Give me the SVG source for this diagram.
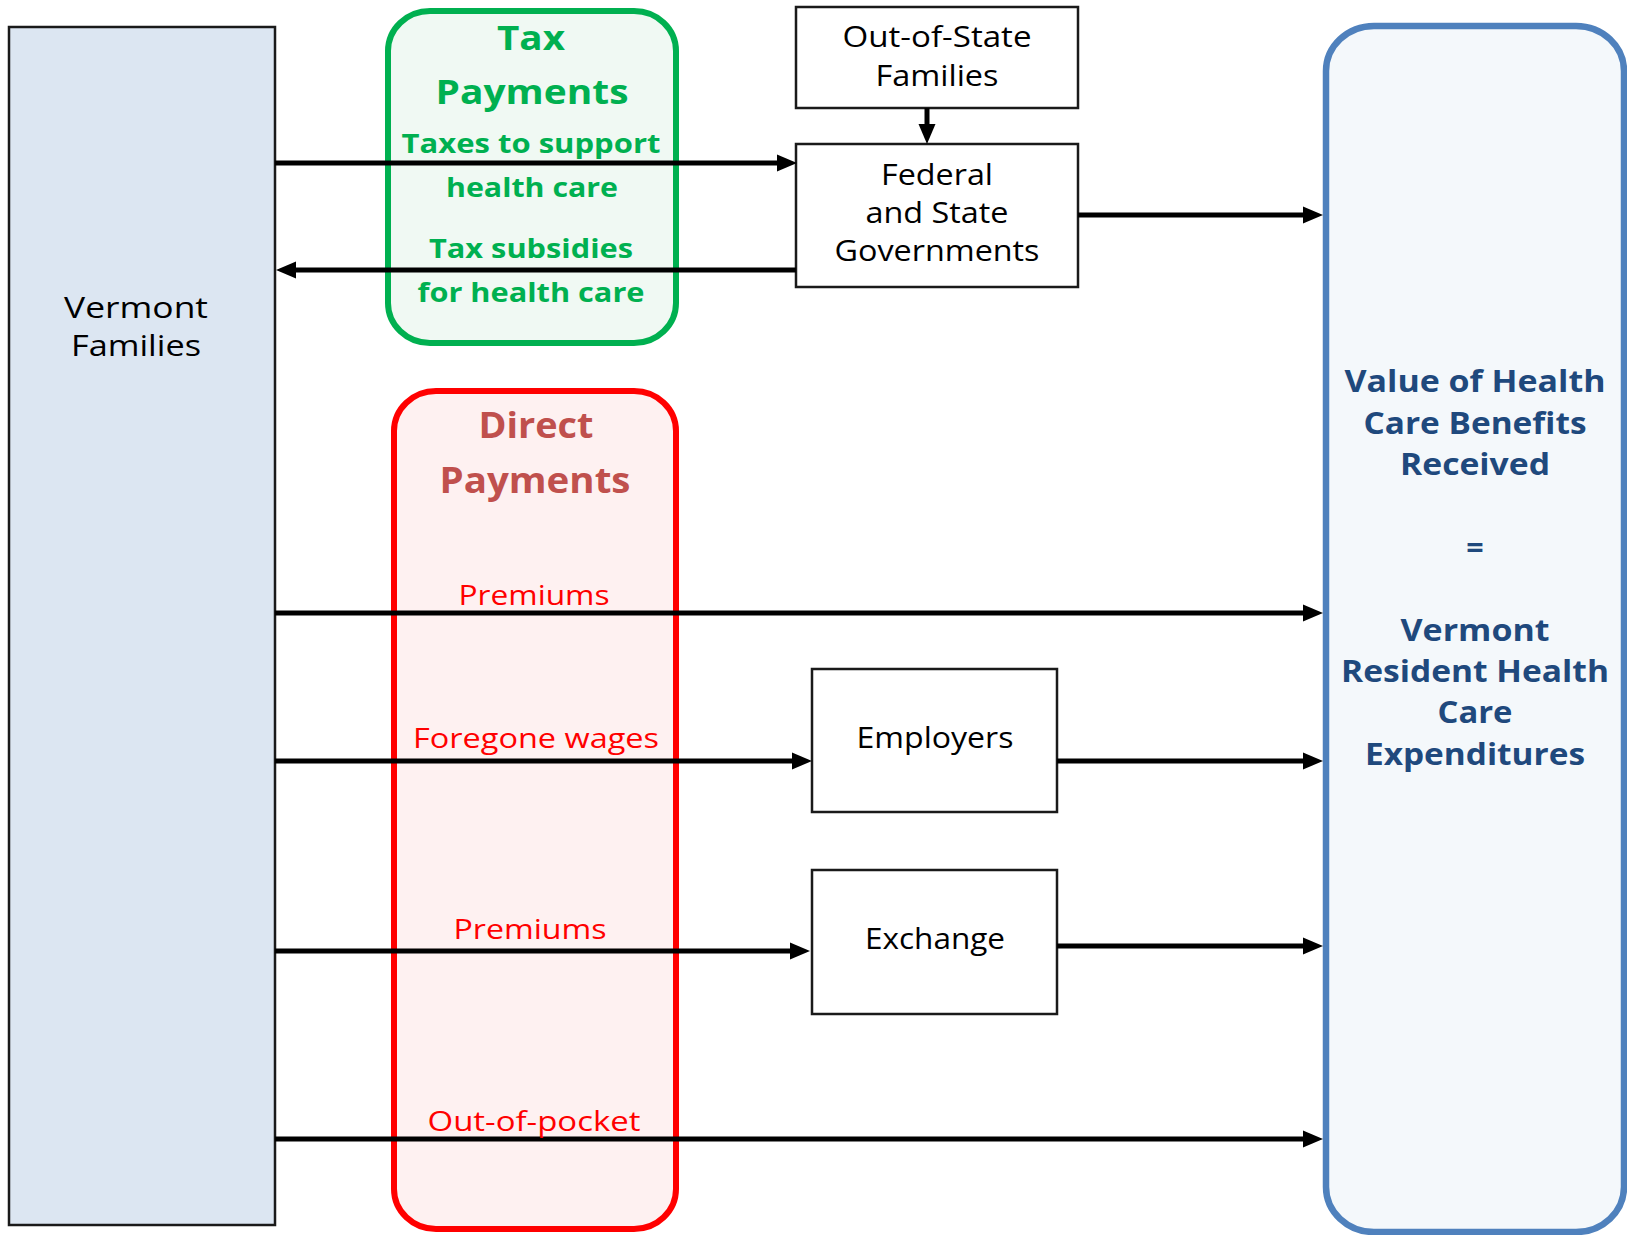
<svg xmlns="http://www.w3.org/2000/svg" width="1627" height="1235" viewBox="0 0 1627 1235">
<style>
text{font-family:"Open Sans","DejaVu Sans",sans-serif;text-anchor:middle}
.box{fill:#ffffff;stroke:#1a1a1a;stroke-width:2.5}
.blk{fill:#000000;font-size:28.5px}
.grnT{fill:#00b050;font-weight:bold;font-size:34px}
.grn{fill:#00b050;font-weight:bold;font-size:27px}
.redT{fill:#c0504d;font-weight:bold;font-size:35px}
.red{fill:#ff0000;font-size:27px}
.nav{fill:#1f497d;font-weight:bold;font-size:30.5px}
.conn line{stroke:#000000;stroke-width:5;fill:none}
</style>
<defs>
<marker id="ah" markerUnits="userSpaceOnUse" markerWidth="21" markerHeight="18" refX="9" refY="8.5" orient="auto" viewBox="0 0 21 17">
<path d="M0,0 L20,8.5 L0,17 z" fill="#000000"/>
</marker>
</defs>
<g id="vermont-families">
<rect x="9" y="27" width="266" height="1198" fill="#dce6f2" stroke="#1a1a1a" stroke-width="2.5"/>
<text class="blk" x="136" y="318" font-size="31.5" textLength="144" lengthAdjust="spacingAndGlyphs">Vermont</text>
<text class="blk" x="136" y="356" font-size="31.5" textLength="130" lengthAdjust="spacingAndGlyphs">Families</text>
</g>
<g id="tax-payments">
<rect x="388" y="11" width="288" height="332" rx="42" ry="40" fill="#f0f9f3" stroke="#00b050" stroke-width="6"/>
<text class="grnT" x="531" y="50" textLength="68" lengthAdjust="spacingAndGlyphs">Tax</text>
<text class="grnT" x="532" y="104" textLength="193" lengthAdjust="spacingAndGlyphs">Payments</text>
</g>
<g id="direct-payments">
<rect x="394" y="391" width="282" height="838" rx="42" ry="40" fill="#fef1f1" stroke="#ff0000" stroke-width="6"/>
<text class="redT" x="536" y="438" textLength="115" lengthAdjust="spacingAndGlyphs">Direct</text>
<text class="redT" x="535" y="493" textLength="191" lengthAdjust="spacingAndGlyphs">Payments</text>
</g>
<g id="value-box">
<rect x="1326" y="26" width="298" height="1206" rx="48" ry="45" fill="#f4f8fb" stroke="#4f81bd" stroke-width="6.5"/>
<text class="nav" x="1475" y="392" textLength="261" lengthAdjust="spacingAndGlyphs">Value of Health</text>
<text class="nav" x="1475" y="434" textLength="223" lengthAdjust="spacingAndGlyphs">Care Benefits</text>
<text class="nav" x="1475" y="475" textLength="150" lengthAdjust="spacingAndGlyphs">Received</text>
<text class="nav" x="1475" y="558">=</text>
<text class="nav" x="1475" y="641" textLength="149" lengthAdjust="spacingAndGlyphs">Vermont</text>
<text class="nav" x="1475" y="682" textLength="268" lengthAdjust="spacingAndGlyphs">Resident Health</text>
<text class="nav" x="1475" y="723" textLength="75" lengthAdjust="spacingAndGlyphs">Care</text>
<text class="nav" x="1475" y="765" textLength="220" lengthAdjust="spacingAndGlyphs">Expenditures</text>
</g>
<g id="out-of-state">
<rect class="box" x="796" y="7" width="282" height="101"/>
<text class="blk" x="937" y="47" textLength="189" lengthAdjust="spacingAndGlyphs">Out-of-State</text>
<text class="blk" x="937" y="86" textLength="123" lengthAdjust="spacingAndGlyphs">Families</text>
</g>
<g id="governments">
<rect class="box" x="796" y="144" width="282" height="143"/>
<text class="blk" x="937" y="185" textLength="112" lengthAdjust="spacingAndGlyphs">Federal</text>
<text class="blk" x="937" y="223" textLength="143" lengthAdjust="spacingAndGlyphs">and State</text>
<text class="blk" x="937" y="261" textLength="205" lengthAdjust="spacingAndGlyphs">Governments</text>
</g>
<g id="employers">
<rect class="box" x="812" y="669" width="245" height="143"/>
<text class="blk" x="935" y="748" textLength="157" lengthAdjust="spacingAndGlyphs">Employers</text>
</g>
<g id="exchange">
<rect class="box" x="812" y="870" width="245" height="144"/>
<text class="blk" x="935" y="949" textLength="140" lengthAdjust="spacingAndGlyphs">Exchange</text>
</g>
<g id="connectors" class="conn">
<line x1="275" y1="163" x2="786" y2="163" marker-end="url(#ah)"/>
<line x1="796" y1="270" x2="287" y2="270" marker-end="url(#ah)"/>
<line x1="927" y1="108" x2="927" y2="133" marker-end="url(#ah)"/>
<line x1="1078" y1="215" x2="1312" y2="215" marker-end="url(#ah)"/>
<line x1="275" y1="613" x2="1312" y2="613" marker-end="url(#ah)"/>
<line x1="275" y1="761" x2="801" y2="761" marker-end="url(#ah)"/>
<line x1="1057" y1="761" x2="1312" y2="761" marker-end="url(#ah)"/>
<line x1="275" y1="951" x2="799" y2="951" marker-end="url(#ah)"/>
<line x1="1057" y1="946" x2="1312" y2="946" marker-end="url(#ah)"/>
<line x1="275" y1="1139" x2="1312" y2="1139" marker-end="url(#ah)"/>
</g>
<g id="labels">
<text class="grn" x="531" y="153" textLength="259" lengthAdjust="spacingAndGlyphs">Taxes to support</text>
<text class="grn" x="532" y="197" textLength="172" lengthAdjust="spacingAndGlyphs">health care</text>
<text class="grn" x="531" y="258" textLength="204" lengthAdjust="spacingAndGlyphs">Tax subsidies</text>
<text class="grn" x="531" y="302" textLength="227" lengthAdjust="spacingAndGlyphs">for health care</text>
<text class="red" x="534" y="605" textLength="151" lengthAdjust="spacingAndGlyphs">Premiums</text>
<text class="red" x="536" y="748" textLength="246" lengthAdjust="spacingAndGlyphs">Foregone wages</text>
<text class="red" x="530" y="939" textLength="153" lengthAdjust="spacingAndGlyphs">Premiums</text>
<text class="red" x="534" y="1131" textLength="213" lengthAdjust="spacingAndGlyphs">Out-of-pocket</text>
</g>
</svg>
